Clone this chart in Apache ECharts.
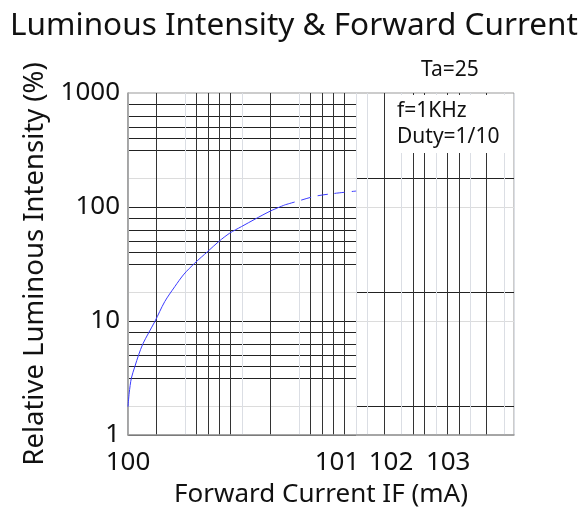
<!DOCTYPE html>
<html>
<head>
<meta charset="utf-8">
<title>Luminous Intensity & Forward Current</title>
<script src="https://cdn.jsdelivr.net/npm/echarts@6/dist/echarts.min.js"></script>
<style>
  html, body { margin: 0; padding: 0; background: #fff; }
  #chart { width: 588px; height: 517px; }
</style>
</head>
<body>
<div id="chart"></div>
<script>
// forward current IF (mA) / relative intensity (%), measured part
const currentSolid = [1, 1.025, 1.07, 1.15, 1.24, 1.35, 1.52, 1.72, 2.1, 2.57, 3.1, 3.85, 5, 6.25, 7.8, 9.9, 13, 17.9, 23.8]
const intensitySolid = [1.77, 2.34, 3.15, 4, 5.05, 6.3, 7.9, 9.9, 14.8, 20, 25.8, 32.2, 40.7, 49.8, 59, 67.4, 78.3, 92.6, 104.5]
// extrapolated part (dashed)
const currentDashed = [23.8, 30.9, 43.6, 62.7, 100]
const intensityDashed = [104.5, 112.7, 124.2, 131.1, 138]

// axes work in decades (log10)
const yTickLabels = ['1', '10', '100', '1000']
const xTickLabels = ['100', '101', '102', '103']
const xTickPos = [0, 1.832, 2.306, 2.807]
const xMaxDecade = 3.384

// grid paper lines, in decades
const xGridLines = [0.25, 0.5, 0.6, 0.7, 0.8, 0.9, 1, 1.25, 1.5, 1.6, 1.7, 1.8, 1.9,
    2, 2.25, 2.5, 2.6, 2.7, 2.8, 2.9, 3.14]
const decadeSteps = [0, 0.25, 0.5, 0.6, 0.7, 0.8, 0.9]

const dark = '#222'
const faint = '#dcdcdc'
const font = 'Noto Sans'

// left part of the paper: dense lines, quarter line faint
const yLeftLines = []
const yLeftColors = []
for (let d = 0; d < 3; d++) {
    decadeSteps.forEach(s => {
        yLeftLines.push(d + s)
        yLeftColors.push(s === 0.25 ? faint : dark)
    })
}
// right part: only the quarter lines are dark
const yRightLines = [0.25, 1, 1.25, 2, 2.25]
const yRightColors = [dark, faint, dark, faint, dark]

const toPairs = (xs, ys) => xs.map((x, i) => [Math.log10(x), Math.log10(ys[i])])

const chart = echarts.init(document.getElementById('chart'))

const hiddenAxis = (gridIndex, extra) => Object.assign({
    gridIndex,
    type: 'value',
    axisLine: { show: false },
    axisTick: { show: false },
    axisLabel: { show: false }
}, extra)

const option = {
    animation: false,
    textStyle: { fontFamily: font, color: '#111' },
    title: [
        {
            text: 'Luminous Intensity & Forward Current',
            left: 'center',
            top: 5,
            textStyle: { fontSize: 31.5, fontWeight: 'normal', color: '#111', fontFamily: font }
        },
        {
            text: 'Ta=25',
            left: 416,
            top: 55,
            textStyle: { fontSize: 21, fontWeight: 'normal', color: '#111', fontFamily: font }
        },
        {
            text: 'f=1KHz\nDuty=1/10',
            left: 386,
            top: 95,
            padding: [3, 10, 3, 11],
            backgroundColor: '#fff',
            textStyle: { fontSize: 21, lineHeight: 26, fontWeight: 'normal', color: '#111', fontFamily: font }
        }
    ],
    grid: [
        { left: 128, top: 93, right: 74, bottom: 82, show: true, borderColor: '#999', borderWidth: 1 },
        { left: 128, top: 93, width: 228, height: 342 },
        { left: 356, top: 93, right: 74, height: 342 }
    ],
    xAxis: [
        {
            gridIndex: 0,
            type: 'value',
            min: 0,
            max: xMaxDecade,
            name: 'Forward Current IF (mA)',
            nameLocation: 'middle',
            nameGap: 47,
            nameTextStyle: { fontSize: 26, color: '#111' },
            axisLine: { show: true, lineStyle: { color: '#999', width: 1.5 } },
            axisTick: { show: false, customValues: xGridLines },
            axisLabel: {
                customValues: xTickPos,
                fontSize: 26,
                color: '#111',
                margin: 15,
                formatter: v => xTickLabels[xTickPos.findIndex(p => Math.abs(p - v) < 1e-6)]
            },
            splitLine: { show: true, lineStyle: { color: '#333', width: 1 } }
        },
        hiddenAxis(1, { min: 0, max: 2 }),
        hiddenAxis(2, { min: 2, max: xMaxDecade })
    ],
    yAxis: [
        {
            gridIndex: 0,
            type: 'value',
            min: 0,
            max: 3,
            interval: 1,
            name: 'Relative Luminous Intensity (%)',
            nameLocation: 'middle',
            nameGap: 79,
            nameTextStyle: { fontSize: 27.5, color: '#111' },
            axisLine: { show: true, lineStyle: { color: '#999', width: 1.5 } },
            axisTick: { show: false },
            axisLabel: { fontSize: 26, color: '#111', margin: 8, formatter: v => yTickLabels[Math.round(v)] },
            splitLine: { show: false }
        },
        hiddenAxis(1, {
            min: 0, max: 3,
            axisTick: { show: false, customValues: yLeftLines },
            splitLine: { show: true, lineStyle: { color: yLeftColors, width: 1 } }
        }),
        hiddenAxis(2, {
            min: 0, max: 3,
            axisTick: { show: false, customValues: yRightLines },
            splitLine: { show: true, lineStyle: { color: yRightColors, width: 1 } }
        })
    ],
    series: [
        {
            type: 'line',
            xAxisIndex: 0,
            yAxisIndex: 0,
            smooth: 0.3,
            symbol: 'none',
            lineStyle: { color: '#3b3bff', width: 1 },
            data: toPairs(currentSolid, intensitySolid)
        },
        {
            type: 'line',
            xAxisIndex: 0,
            yAxisIndex: 0,
            smooth: 0.3,
            symbol: 'none',
            lineStyle: { color: '#3b3bff', width: 1, type: [10, 7] },
            data: toPairs(currentDashed, intensityDashed)
        }
    ]
}
chart.setOption(option)
</script>
</body>
</html>
